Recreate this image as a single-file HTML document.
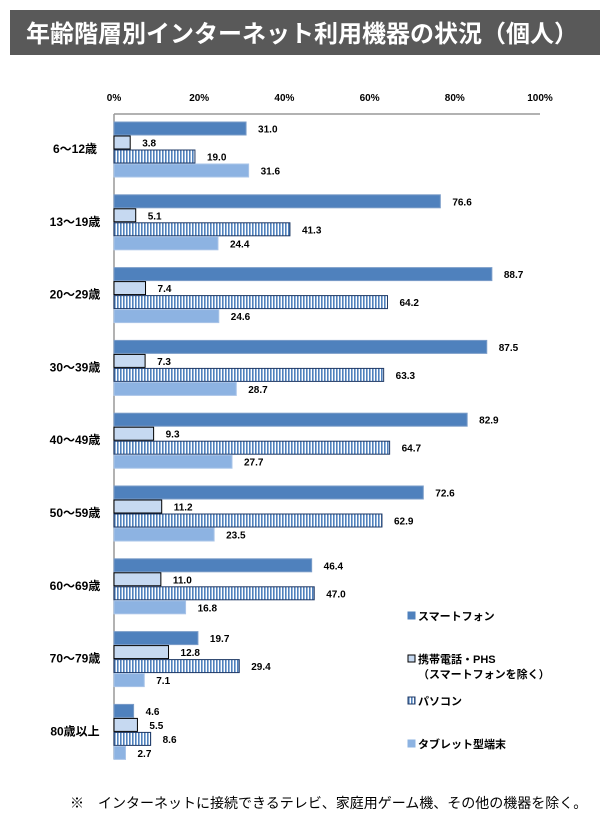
<!DOCTYPE html>
<html><head><meta charset="utf-8"><style>
body{margin:0;background:#fff;width:600px;height:820px;overflow:hidden;font-family:"Liberation Sans","Noto Sans CJK JP",sans-serif;}
svg text{font-family:"Liberation Sans","Noto Sans CJK JP",sans-serif;}
</style></head><body>
<svg width="600" height="820" xmlns="http://www.w3.org/2000/svg">
<defs>
<pattern id="vstripe" width="3" height="10" patternUnits="userSpaceOnUse">
<rect width="3" height="10" fill="#fff"/><rect width="1.6" height="10" fill="#4f81bd"/>
</pattern>
</defs>
<rect x="10" y="10" width="590" height="45" fill="#595959"/>
<text x="302" y="42" text-anchor="middle" font-size="24" font-weight="bold" fill="#fff">年齢階層別インターネット利用機器の状況（個人）</text>
<g id="axis"></g>
<g id="bars"></g>
<g id="legend"></g>
<text x="70" y="808" font-size="14" fill="#000">※　インターネットに接続できるテレビ、家庭用ゲーム機、その他の機器を除く。</text>
</svg>
<script>
const categories=["6～12歳","13～19歳","20～29歳","30～39歳","40～49歳","50～59歳","60～69歳","70～79歳","80歳以上"];
const smartphone=[31.0,76.6,88.7,87.5,82.9,72.6,46.4,19.7,4.6];
const mobile=[3.8,5.1,7.4,7.3,9.3,11.2,11.0,12.8,5.5];
const pc=[19.0,41.3,64.2,63.3,64.7,62.9,47.0,29.4,8.6];
const tablet=[31.6,24.4,24.6,28.7,27.7,23.5,16.8,7.1,2.7];
const ticks=[0,20,40,60,80,100];
const seriesNames=["スマートフォン","携帯電話・PHS","パソコン","タブレット型端末"];
const NS="http://www.w3.org/2000/svg";
const x0=114,x1=540,yTop=114,groupH=72.8,g0=122;
const xs=v=>x0+(x1-x0)*v/100;
function el(t,a,p){const e=document.createElementNS(NS,t);for(const k in a)e.setAttribute(k,a[k]);p.appendChild(e);return e;}
const axisG=document.getElementById('axis'),barsG=document.getElementById('bars'),legG=document.getElementById('legend');
const topLine=el('line',{x1:x0,y1:yTop,x2:x1,y2:yTop,stroke:'#999','stroke-width':1.5},axisG);


const leftLine=el('line',{x1:x0,y1:yTop,x2:x0,y2:yTop+groupH*categories.length-10,stroke:'#999','stroke-width':1.5},axisG);


ticks.forEach(t=>{const tx=el('text',{x:xs(t),y:101,'text-anchor':'middle','font-size':10,'font-weight':'bold'},axisG);tx.textContent=t+'%';

});
const series=[smartphone,mobile,pc,tablet];
const styles=[{fill:'#4f81bd',stroke:'#7a9cc8'},{fill:'#c6d9f1',stroke:'#000'},{fill:'url(#vstripe)',stroke:'#1f3864'},{fill:'#8db3e2',stroke:'#a9c4e8'}];
const names=['smartphone','mobile-phone','pc','tablet'];
categories.forEach((c,i)=>{
 const gy=g0+groupH*i;
 const lab=el('text',{x:75,y:gy+31,'text-anchor':'middle','font-size':12,'font-weight':'bold'},barsG);lab.textContent=c;
 
 
 series.forEach((s,j)=>{
  const y=gy+j*14;
  const r=el('rect',{x:x0,y:y,width:xs(s[i])-x0,height:13,fill:styles[j].fill,stroke:styles[j].stroke,'stroke-width':1},barsG);
  
  
  const t=el('text',{x:xs(s[i])+12,y:y+10.5,'font-size':10,'font-weight':'bold'},barsG);t.textContent=s[i].toFixed(1);
  
  
 });
});
const ly=[616,659,701,744];
ly.forEach((y,j)=>{
 const m=el('rect',{x:408,y:y-4,width:7,height:7,fill:styles[j].fill,stroke:j==1?'#000':(j==2?'#1f3864':styles[j].fill),'stroke-width':1},legG);
 
 
 const t=el('text',{x:418,y:y+4,'font-size':11,'font-weight':'bold'},legG);t.textContent=seriesNames[j];
 
 
});
const t2=el('text',{x:418,y:678,'font-size':11,'font-weight':'bold'},legG);t2.textContent='（スマートフォンを除く）';


</script>
</body></html>
